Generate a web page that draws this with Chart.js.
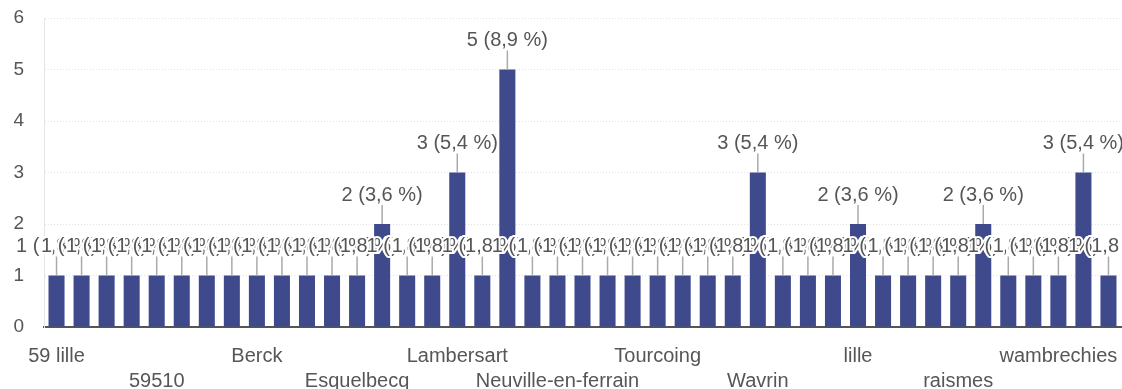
<!DOCTYPE html>
<html lang="fr">
<head>
<meta charset="UTF-8" />
<title>Communes</title>
<script src="https://cdn.jsdelivr.net/npm/chart.js"></script>
<style>
  html, body { margin: 0; padding: 0; background: #fff; }
  canvas { display: block; }
</style>
</head>
<body>
<canvas id="chart" width="1122" height="389"></canvas>
<script>
// one bar per commune; only every 4th name is printed on the axis
const categories = [
  '59 lille', '', '', '', '59510', '', '', '', 'Berck', '', '', '',
  'Esquelbecq', '', '', '', 'Lambersart', '', '', '', 'Neuville-en-ferrain', '', '', '',
  'Tourcoing', '', '', '', 'Wavrin', '', '', '', 'lille', '', '', '',
  'raismes', '', '', '', 'wambrechies', '', ''
];
const counts = [
  1, 1, 1, 1, 1, 1, 1, 1, 1, 1, 1, 1, 1, 2, 1, 1, 3, 1, 5, 1, 1, 1,
  1, 1, 1, 1, 1, 1, 3, 1, 1, 1, 2, 1, 1, 1, 1, 2, 1, 1, 1, 3, 1
];
const yTicks = [0, 1, 2, 3, 4, 5, 6];

const total = counts.reduce((a, b) => a + b, 0);
const FONT = '"Liberation Sans", Arial, sans-serif';
const TEXT = '#555657';

// label "n (x,x %)" above each bar with a short leader line
const valueLabels = {
  id: 'valueLabels',
  afterDatasetsDraw(chart) {
    const ctx = chart.ctx;
    const meta = chart.getDatasetMeta(0);
    ctx.save();
    ctx.font = '20px ' + FONT;
    ctx.textAlign = 'center';
    ctx.textBaseline = 'middle';
    ctx.lineJoin = 'round';
    meta.data.forEach((bar, i) => {
      const v = counts[i];
      const pct = (v / total * 100).toFixed(1).replace('.', ',');
      const txt = v + ' (' + pct + ' %)';
      ctx.strokeStyle = '#a9aaad';
      ctx.lineWidth = 1.5;
      ctx.beginPath();
      ctx.moveTo(bar.x, bar.y);
      ctx.lineTo(bar.x, bar.y - 19);
      ctx.stroke();
      ctx.strokeStyle = '#fff';
      ctx.lineWidth = 4;
      ctx.strokeText(txt, bar.x, bar.y - 29);
      ctx.fillStyle = TEXT;
      ctx.fillText(txt, bar.x, bar.y - 29);
    });
    ctx.restore();
  }
};

new Chart(document.getElementById('chart'), {
  type: 'bar',
  data: {
    labels: categories,
    datasets: [{
      data: counts,
      backgroundColor: '#3e4a8c',
      barPercentage: 0.8,
      categoryPercentage: 0.8
    }]
  },
  options: {
    responsive: false,
    animation: false,
    layout: { padding: { top: 18, right: 1, left: 0, bottom: 0 } },
    plugins: { legend: { display: false }, tooltip: { enabled: false } },
    scales: {
      x: {
        grid: { display: false },
        border: { color: '#555', width: 2 },
        afterFit: s => { s.height = 62; s.paddingLeft = 0; s.paddingRight = 0; },
        ticks: {
          autoSkip: false,
          maxRotation: 0,
          padding: 9,
          color: TEXT,
          font: { family: FONT, size: 20, lineHeight: '25px' },
          callback: function (val, i) {
            const name = categories[i];
            if (!name) return null;
            return (i / 4) % 2 === 0 ? name : ['', name];
          }
        }
      },
      y: {
        min: 0,
        max: 6,
        afterFit: s => { s.width = 44; s.paddingTop = 0; s.paddingBottom = 0; },
        afterBuildTicks: s => { s.ticks = yTicks.map(v => ({ value: v })); },
        grid: { color: '#e2e2e2', drawTicks: false },
        border: { display: true, color: '#e6e6e6', dash: [1, 2] },
        ticks: {
          padding: 20,
          color: TEXT,
          font: { family: FONT, size: 19 }
        }
      }
    }
  },
  plugins: [valueLabels]
});
</script>
</body>
</html>
